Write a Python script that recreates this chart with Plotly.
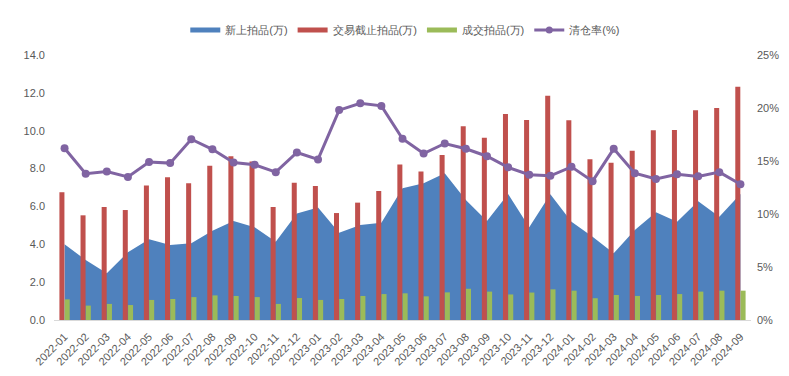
import plotly.graph_objects as go

months = ["2022-01","2022-02","2022-03","2022-04","2022-05","2022-06","2022-07","2022-08","2022-09","2022-10",
          "2022-11","2022-12","2023-01","2023-02","2023-03","2023-04","2023-05","2023-06","2023-07","2023-08",
          "2023-09","2023-10","2023-11","2023-12","2024-01","2024-02","2024-03","2024-04","2024-05","2024-06",
          "2024-07","2024-08","2024-09"]

new_listings = [4.00, 3.17, 2.47, 3.58, 4.26, 3.96, 4.05, 4.72, 5.23, 4.90,
                4.14, 5.63, 5.95, 4.61, 5.02, 5.14, 6.96, 7.22, 7.75, 6.34,
                5.23, 6.66, 4.90, 6.64, 5.19, 4.40, 3.52, 4.75, 5.69, 5.19,
                6.27, 5.46, 6.66]

ended_listings = [6.75, 5.53, 5.97, 5.81, 7.10, 7.54, 7.22, 8.15, 8.65, 8.38,
                  5.97, 7.25, 7.08, 5.65, 6.20, 6.81, 8.22, 7.85, 8.72, 10.23,
                  9.63, 10.88, 10.57, 11.85, 10.55, 8.49, 8.31, 8.94, 10.02, 10.04,
                  11.08, 11.20, 12.32]

sold_listings = [1.09, 0.76, 0.85, 0.79, 1.06, 1.11, 1.21, 1.30, 1.27, 1.21,
                 0.85, 1.16, 1.06, 1.11, 1.27, 1.37, 1.41, 1.25, 1.46, 1.65,
                 1.50, 1.35, 1.45, 1.62, 1.55, 1.15, 1.32, 1.27, 1.32, 1.37,
                 1.50, 1.55, 1.55]

clearance_rate = [16.2, 13.8, 14.0, 13.5, 14.9, 14.8, 17.05, 16.1, 14.85, 14.65,
                  13.95, 15.8, 15.15, 19.8, 20.45, 20.2, 17.1, 15.7, 16.65, 16.15,
                  15.45, 14.4, 13.7, 13.6, 14.45, 13.1, 16.15, 13.85, 13.3, 13.75,
                  13.55, 13.95, 12.8]

series_names = ["新上拍品(万)", "交易截止拍品(万)", "成交拍品(万)", "清仓率(%)"]

left_ticks = [0, 2, 4, 6, 8, 10, 12, 14]
left_labels = ["0.0", "2.0", "4.0", "6.0", "8.0", "10.0", "12.0", "14.0"]
right_ticks = [0, 5, 10, 15, 20, 25]
right_labels = ["0%", "5%", "10%", "15%", "20%", "25%"]

BLUE = "#4F81BD"
RED = "#C0504D"
GREEN = "#9BBB59"
PURPLE = "#8064A2"
GREY = "#595959"

fig = go.Figure()
fig.add_trace(go.Scatter(x=months, y=new_listings, name=series_names[0], mode="lines", showlegend=False,
                         line=dict(color=BLUE, width=0), fill="tozeroy", fillcolor=BLUE, yaxis="y"))
fig.add_trace(go.Bar(x=months, y=ended_listings, name=series_names[1], yaxis="y2", showlegend=False,
                     marker=dict(color=RED, line=dict(width=0))))
fig.add_trace(go.Bar(x=months, y=sold_listings, name=series_names[2], yaxis="y2", showlegend=False,
                     marker=dict(color=GREEN, line=dict(width=0))))
fig.add_trace(go.Scatter(x=months, y=clearance_rate, name=series_names[3], mode="lines+markers", yaxis="y3",
                         showlegend=False, line=dict(color=PURPLE, width=3), marker=dict(color=PURPLE, size=8)))

# legend-only entries (wide rectangle swatches like the original)
for nm, col in zip(series_names[:3], [BLUE, RED, GREEN]):
    fig.add_trace(go.Scatter(x=[None], y=[None], name=nm, mode="lines",
                             line=dict(color=col, width=5), showlegend=True))
fig.add_trace(go.Scatter(x=[None], y=[None], name=series_names[3], mode="lines+markers",
                         line=dict(color=PURPLE, width=3), marker=dict(color=PURPLE, size=7), showlegend=True))

fig.update_layout(
    width=781, height=368,
    margin=dict(l=46, r=38, t=47, b=56, autoexpand=False),
    paper_bgcolor="white", plot_bgcolor="white",
    font=dict(family="Liberation Sans, Arial, sans-serif", size=11, color=GREY),
    barmode="group", bargap=0.5, bargroupgap=0.05,
    showlegend=True,
    legend=dict(orientation="h", x=0.504, xanchor="center", y=1.094, yanchor="middle",
                font=dict(size=11, color=GREY), traceorder="normal", itemwidth=30),
    xaxis=dict(type="category", tickangle=-45, tickfont=dict(size=11, color=GREY),
               showline=True, linecolor="#D9D9D9", linewidth=1, showgrid=False,
               ticks="", range=[-0.5, len(months) - 0.5], automargin=False, ticklabelstandoff=5),
    yaxis=dict(range=[0, 14], tickvals=left_ticks, ticktext=left_labels, showgrid=False,
               zeroline=False, tickfont=dict(size=11, color=GREY), ticks="", automargin=False,
               ticklabelstandoff=8),
    yaxis2=dict(range=[0, 14], overlaying="y", side="left", visible=False, showgrid=False, zeroline=False),
    yaxis3=dict(range=[0, 25], tickvals=right_ticks, ticktext=right_labels, overlaying="y", side="right",
                showgrid=False, zeroline=False, tickfont=dict(size=11, color=GREY), ticks="", automargin=False,
                ticklabelstandoff=5),
)

fig.write_html("out.html")
